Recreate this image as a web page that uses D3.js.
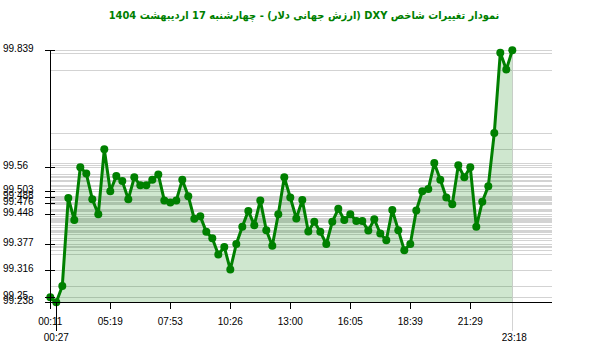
<!DOCTYPE html>
<html><head><meta charset="utf-8">
<script src="https://cdn.jsdelivr.net/npm/d3@7"></script>
<style>body{margin:0;background:#fff}svg{display:block}</style>
</head><body>
<svg id="c" width="600" height="352"></svg>
<script>
const title = "نمودار تغییرات شاخص DXY (ارزش جهانی دلار) - چهارشنبه  17 اردیبهشت 1404";
const values = [99.250,99.238,99.277,99.487,99.434,99.560,99.545,99.484,99.448,99.603,
99.503,99.539,99.527,99.484,99.536,99.517,99.517,99.530,99.543,99.481,
99.476,99.481,99.530,99.491,99.437,99.443,99.406,99.391,99.352,99.370,
99.316,99.377,99.418,99.456,99.422,99.481,99.410,99.373,99.448,99.536,
99.488,99.438,99.482,99.407,99.430,99.406,99.377,99.430,99.461,99.434,
99.448,99.432,99.432,99.409,99.436,99.402,99.386,99.458,99.410,99.362,
99.377,99.457,99.503,99.508,99.570,99.530,99.488,99.472,99.565,99.536,
99.560,99.418,99.478,99.515,99.642,99.833,99.793,99.839];
const xTickIdx = [0,10,20,30,40,50,60,70];
const xTickLabels = ["00:11","05:19","07:53","10:26","13:00","16:05","18:39","21:29"];
const minIdx = 1, minLabel = "00:27";
const lastLabel = "23:18";
const yTickValues = [99.839,99.56,99.503,99.488,99.476,99.448,99.377,99.316,99.25,99.238];

const svg = d3.select("#c");
const n = values.length;
const x = d3.scaleLinear().domain([0, n-1]).range([50.3, 512.3]);
const y = d3.scaleLinear().domain([d3.min(values), d3.max(values)]).range([302.3, 50.3]);
const green = "#008000";
const xEnd = 552;

// title
svg.append("text").attr("x", 304).attr("y", 16).attr("text-anchor","middle")
  .attr("dominant-baseline","middle")
  .attr("font-family","'DejaVu Sans Condensed', 'DejaVu Sans', sans-serif").attr("font-size","11px")
  .attr("font-weight","bold").attr("fill", green).attr("direction","rtl").text(title);

// gridlines per value
svg.append("g").selectAll("line").data(values).join("line")
  .attr("x1", 50).attr("x2", xEnd)
  .attr("y1", d => Math.round(y(d))+0.5).attr("y2", d => Math.round(y(d))+0.5)
  .attr("stroke", "#d3d3d3").attr("stroke-width", 1);

// vertical line at last point
svg.append("line").attr("x1", Math.round(x(n-1))+0.5).attr("x2", Math.round(x(n-1))+0.5)
  .attr("y1", 50).attr("y2", 331).attr("stroke","#d3d3d3").attr("stroke-width",1);

// area
const area = d3.area().x((d,i)=>x(i)).y0(y.range()[0]).y1(d=>y(d));
svg.append("path").datum(values).attr("d", area).attr("fill", green).attr("fill-opacity", 0.19);

// line
const line = d3.line().x((d,i)=>x(i)).y(d=>y(d));
svg.append("path").datum(values).attr("d", line).attr("fill","none")
  .attr("stroke", green).attr("stroke-width", 3).attr("stroke-linejoin","round");

svg.append("g").selectAll("circle").data(values).join("circle")
  .attr("cx",(d,i)=>x(i)).attr("cy",d=>y(d)).attr("r",4).attr("fill",green);

// axes
const axG = svg.append("g").attr("stroke","#000").attr("shape-rendering","crispEdges");
axG.append("line").attr("x1",50.5).attr("x2",50.5).attr("y1",50).attr("y2",308);
axG.append("line").attr("x1",46).attr("x2",xEnd).attr("y1",302.5).attr("y2",302.5);

const font = "'Liberation Sans', Arial, sans-serif";
// y ticks
yTickValues.forEach(v => {
  const yy = Math.round(y(v))+0.5;
  axG.append("line").attr("x1",45).attr("x2",55).attr("y1",yy).attr("y2",yy);
  svg.append("text").attr("x",3).attr("y",y(v)-1.5).attr("dy","0.35em")
    .attr("font-family",font).attr("font-size","10px").attr("fill","#000").text(v);
});

// x ticks
xTickIdx.forEach((idx,k) => {
  const xx = Math.round(x(idx))+0.5;
  axG.append("line").attr("x1",xx).attr("x2",xx).attr("y1",302).attr("y2",309);
  svg.append("text").attr("x",x(idx)).attr("y",321).attr("dy","0.35em").attr("text-anchor","middle")
    .attr("font-family",font).attr("font-size","10px").attr("fill","#000").text(xTickLabels[k]);
});
// min marker
const mx = Math.round(x(minIdx))+0.5;
axG.append("line").attr("x1",mx).attr("x2",mx).attr("y1",302).attr("y2",331);
svg.append("text").attr("x",x(minIdx)).attr("y",337).attr("dy","0.35em").attr("text-anchor","middle")
  .attr("font-family",font).attr("font-size","10px").attr("fill","#000").text(minLabel);
svg.append("text").attr("x",x(n-1)+2).attr("y",337).attr("dy","0.35em").attr("text-anchor","middle")
  .attr("font-family",font).attr("font-size","10px").attr("fill","#000").text(lastLabel);
</script>
</body></html>
